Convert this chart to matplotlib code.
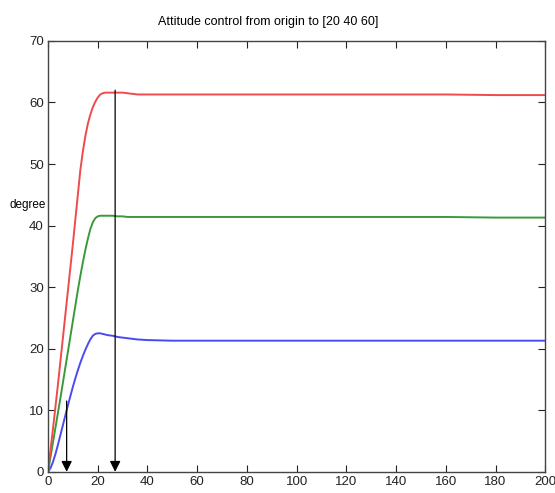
import numpy as np
import matplotlib.pyplot as plt

# time samples and attitude angles
t = [0, 1, 2, 3, 4, 5, 6, 7, 8, 9, 10, 11, 12, 13, 14, 15, 16, 17, 18, 19, 20,
     21, 22, 23, 24, 26, 28, 30, 32, 34, 36, 40, 45, 50, 60, 80, 100, 120, 140, 160, 180, 200]
roll = [0, 0.6, 1.6, 2.9, 4.4, 6.0, 7.6, 9.2, 10.8, 12.3, 13.8, 15.2, 16.5, 17.7, 18.8, 19.8, 20.7, 21.5, 22.1, 22.4, 22.5,
        22.5, 22.4, 22.3, 22.2, 22.1, 21.9, 21.8, 21.7, 21.6, 21.5, 21.4, 21.35, 21.3, 21.3, 21.3, 21.3, 21.3, 21.3, 21.3, 21.3, 21.3]
pitch = [0, 2.4, 4.8, 7.2, 9.6, 12.0, 14.5, 17.0, 19.5, 22.0, 24.5, 27.0, 29.5, 31.8, 34.0, 36.0, 37.8, 39.4, 40.5, 41.2, 41.5,
         41.6, 41.6, 41.6, 41.6, 41.6, 41.5, 41.5, 41.4, 41.4, 41.4, 41.4, 41.4, 41.4, 41.4, 41.4, 41.4, 41.4, 41.4, 41.4, 41.3, 41.3]
yaw = [0, 3.5, 7.0, 10.6, 14.2, 18.0, 21.8, 25.6, 29.4, 33.2, 37.0, 41.0, 45.0, 49.0, 52.0, 54.5, 56.5, 58.0, 59.2, 60.1, 60.8,
       61.3, 61.5, 61.6, 61.6, 61.6, 61.6, 61.6, 61.5, 61.4, 61.3, 61.3, 61.3, 61.3, 61.3, 61.3, 61.3, 61.3, 61.3, 61.3, 61.2, 61.2]

# arrows: (time, start value)
arrow_t = [7.5, 27]
arrow_y = [11.5, 62]

plt.rcParams['font.family'] = ['Liberation Sans', 'DejaVu Sans']

fig = plt.figure(figsize=(5.55, 4.93), dpi=100)
ax = fig.add_axes([0.0865, 0.043, 0.896, 0.874])

ax.plot(t, roll, color='#4a4af0', lw=1.4)
ax.plot(t, pitch, color='#3a9a3a', lw=1.4)
ax.plot(t, yaw, color='#f04a4a', lw=1.4)

for xa, ya in zip(arrow_t, arrow_y):
    ax.annotate('', xy=(xa, 0), xytext=(xa, ya),
                arrowprops=dict(arrowstyle='-|>', color='black', lw=0.9,
                                mutation_scale=16, shrinkA=0, shrinkB=0))

ax.set_xlim(0, 200)
ax.set_ylim(0, 70)
ax.set_xticks(range(0, 201, 20))
ax.set_yticks(range(0, 71, 10))
ax.tick_params(direction='in', top=True, right=True, length=5,
               labelsize=9.5, colors='#222222', pad=3)
for s in ax.spines.values():
    s.set_color('#444444')
    s.set_linewidth(1.0)

fig.text(0.483, 0.955, 'Attitude control from origin to [20 40 60]',
         fontsize=9, ha='center', va='center')
ax.text(-1, 42.3, 'degree', fontsize=8.5, ha='right', va='bottom')

fig.savefig('out.png', dpi=100)
